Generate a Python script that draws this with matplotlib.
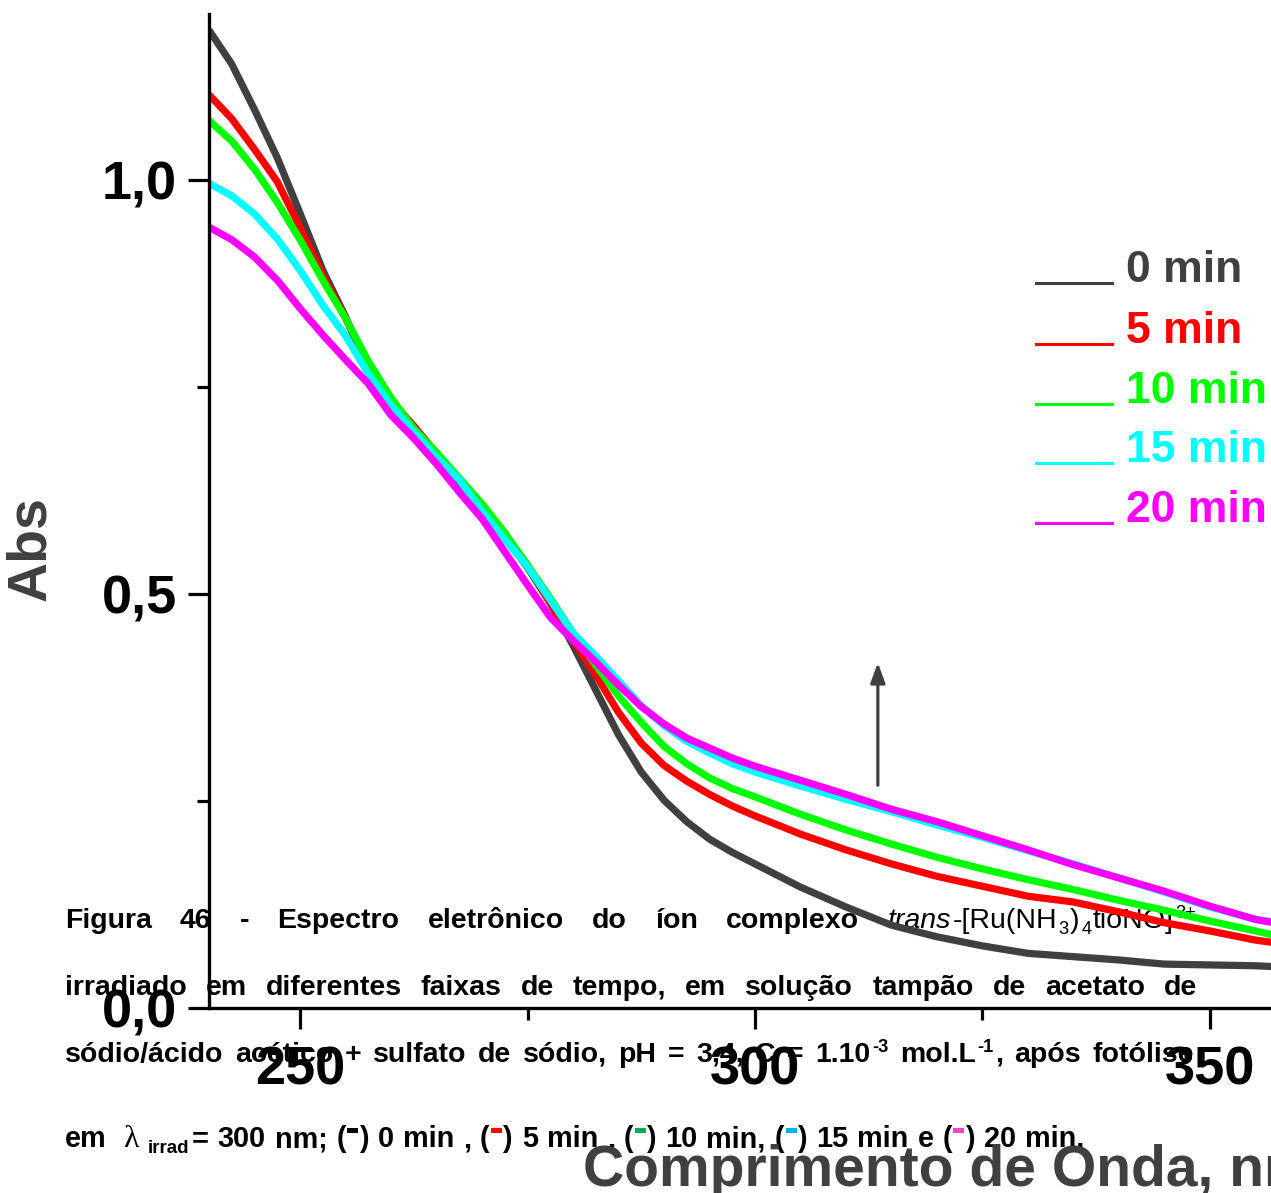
import matplotlib
matplotlib.use("Agg")
import matplotlib.pyplot as plt
from matplotlib.transforms import IdentityTransform
from matplotlib.lines import Line2D
from matplotlib.patches import Rectangle
from matplotlib.ticker import FixedLocator

plt.rcParams['font.family'] = ['Liberation Sans', 'DejaVu Sans']

# ---- data -------------------------------------------------------------
wavelength = [240, 242.5, 245, 247.5, 250, 252.5, 255, 257.5, 260, 262.5,
              265, 267.5, 270, 272.5, 275, 277.5, 280, 282.5, 285, 287.5,
              290, 292.5, 295, 297.5, 300, 305, 310, 315, 320, 325, 330,
              335, 340, 345, 350, 355, 357]

abs_0min = [1.181, 1.140, 1.085, 1.027, 0.960, 0.891, 0.835, 0.769, 0.725,
            0.696, 0.665, 0.634, 0.601, 0.569, 0.532, 0.489, 0.438, 0.384,
            0.330, 0.285, 0.251, 0.225, 0.204, 0.188, 0.174, 0.146, 0.122,
            0.100, 0.086, 0.075, 0.066, 0.062, 0.058, 0.053, 0.052, 0.051,
            0.050]
abs_5min = [1.103, 1.074, 1.037, 0.998, 0.943, 0.885, 0.833, 0.779, 0.734,
            0.703, 0.670, 0.639, 0.607, 0.572, 0.535, 0.489, 0.444, 0.402,
            0.357, 0.320, 0.293, 0.274, 0.258, 0.244, 0.232, 0.210, 0.191,
            0.174, 0.159, 0.147, 0.135, 0.128, 0.116, 0.103, 0.093, 0.082,
            0.079]
abs_10min = [1.072, 1.047, 1.013, 0.973, 0.928, 0.879, 0.833, 0.781, 0.737,
             0.700, 0.671, 0.640, 0.609, 0.574, 0.535, 0.495, 0.453, 0.414,
             0.377, 0.345, 0.316, 0.295, 0.278, 0.265, 0.255, 0.234, 0.215,
             0.198, 0.182, 0.168, 0.155, 0.143, 0.130, 0.118, 0.105, 0.093,
             0.088]
abs_15min = [0.996, 0.981, 0.959, 0.929, 0.891, 0.849, 0.812, 0.766, 0.728,
             0.696, 0.665, 0.638, 0.600, 0.566, 0.533, 0.493, 0.453, 0.425,
             0.395, 0.365, 0.341, 0.322, 0.308, 0.295, 0.285, 0.268, 0.252,
             0.237, 0.221, 0.206, 0.190, 0.174, 0.157, 0.140, 0.122, 0.107,
             0.104]
abs_20min = [0.943, 0.928, 0.907, 0.879, 0.845, 0.813, 0.783, 0.754, 0.716,
             0.688, 0.657, 0.623, 0.591, 0.551, 0.511, 0.472, 0.444, 0.418,
             0.390, 0.364, 0.343, 0.326, 0.314, 0.302, 0.292, 0.275, 0.258,
             0.240, 0.225, 0.208, 0.191, 0.173, 0.157, 0.141, 0.123, 0.107,
             0.103]

series_labels = ['0 min', '5 min', '10 min', '15 min', '20 min']
series_colors = ['#404040', '#ff0000', '#00ff00', '#00ffff', '#ff00ff']
series_values = [abs_0min, abs_5min, abs_10min, abs_15min, abs_20min]

y_major = [0.0, 0.5, 1.0]
y_major_labels = ['0,0', '0,5', '1,0']
y_minor = [0.25, 0.75]
x_major = [250, 300, 350]
x_minor = [275, 325]

caption_marker_colors = ['#000000', '#ff0000', '#00b050', '#00b0f0', '#ff40c8']

# ---- figure -----------------------------------------------------------
W, H = 1271, 1193
fig = plt.figure(figsize=(W / 100, H / 100), dpi=100)
x0_px, y0_px = 209, 1008
px_per_nm, px_per_abs = 9.1, 828
xlim = (240, 360)
ylim = (0, 1.2)
ax = fig.add_axes([x0_px / W, 1 - y0_px / H,
                   (xlim[1] - xlim[0]) * px_per_nm / W,
                   (ylim[1] - ylim[0]) * px_per_abs / H])
ax.set_xlim(*xlim)
ax.set_ylim(*ylim)

for vals, col in zip(series_values, series_colors):
    ax.plot(wavelength, vals, color=col, lw=5.2, solid_joinstyle='round',
            solid_capstyle='butt', zorder=2)

for side in ('top', 'right'):
    ax.spines[side].set_visible(False)
for side in ('left', 'bottom'):
    ax.spines[side].set_linewidth(2.4)

ax.xaxis.set_major_locator(FixedLocator(x_major))
ax.xaxis.set_minor_locator(FixedLocator(x_minor))
ax.yaxis.set_major_locator(FixedLocator(y_major))
ax.yaxis.set_minor_locator(FixedLocator(y_minor))
ax.set_yticklabels(y_major_labels)
ax.set_xticklabels([str(v) for v in x_major])
ax.tick_params(which='major', direction='out', length=15, width=2.3,
               labelsize=39, pad=8)
ax.tick_params(axis='x', which='major', pad=12)
ax.tick_params(which='minor', direction='out', length=8.5, width=2.3)
for lab in ax.get_xticklabels() + ax.get_yticklabels():
    lab.set_fontweight('bold')

# arrow showing the rise of the band with irradiation time
ax.annotate('', xy=(313.5, 0.417), xytext=(313.5, 0.269),
            arrowprops=dict(arrowstyle='-|>,head_length=0.6,head_width=0.22',
                            color='#404040', lw=2.3, mutation_scale=20,
                            shrinkA=0, shrinkB=0))

# axis titles
fig.text(31 / W, 1 - 549 / H, 'Abs', rotation=90, fontsize=40,
         fontweight='bold', color='#404040', ha='center', va='center')
fig.text(583 / W, 1 - 1186 / H, 'Comprimento de Onda, nm', fontsize=41,
         fontweight='bold', color='#404040', ha='left', va='baseline')

# legend
legend_rows = [283, 344, 404, 463, 523]
for lab, col, yy in zip(series_labels, series_colors, legend_rows):
    fig.add_artist(Line2D([1036 / W, 1112 / W], [1 - yy / H, 1 - yy / H],
                          color=col, lw=2.2))
    fig.text(1126 / W, 1 - (yy - 1) / H, lab, fontsize=32, fontweight='bold',
             color=col, ha='left', va='baseline')

# ---- caption (drawn beneath the curves) -------------------------------
ID = IdentityTransform()
renderer = fig.canvas.get_renderer()
CAP = 20.5


def R(s, **kw):
    return (s, kw)


def BAR(color):
    return ('__bar__', {'color': color})


def build_word(runs, cap):
    parts = []
    for s, kw in runs:
        if s == '__bar__':
            parts.append(('bar', kw['color'], 11))
            continue
        size = kw.get('size', cap * 0.64 if ('sub' in kw or 'sup' in kw) else cap)
        t = ax.text(0, 0, s, transform=ID, fontsize=size,
                    fontweight=kw.get('weight', 'bold'),
                    fontstyle=kw.get('style', 'normal'),
                    family=kw.get('family', ['Liberation Sans', 'DejaVu Sans']),
                    color=kw.get('color', 'black'),
                    ha='left', va='baseline', zorder=1, clip_on=False)
        w = t.get_window_extent(renderer).width
        dy = 0
        if kw.get('sub'):
            dy = -6
        if kw.get('sup'):
            dy = 10
        parts.append(('text', t, w, dy))
    total = sum(p[2] + 1.5 for p in parts)
    return parts, total - 1.5


def place_word(parts, x, base):
    for p in parts:
        if p[0] == 'text':
            _, t, w, dy = p
            t.set_position((x, H - base + dy))
            x += w + 1.5
        else:
            _, col, w = p
            ax.add_artist(Rectangle((x, H - base + 14), w, 5, transform=ID,
                                    facecolor=col, edgecolor='none',
                                    zorder=1, clip_on=False))
            x += w + 1.5
    return x


def caption_line(words, base, x_left=65, x_right=None, gaps=None, cap=CAP):
    built = [build_word(w, cap) for w in words]
    widths = [b[1] for b in built]
    if x_right is not None:
        gap = (x_right - x_left - sum(widths)) / (len(words) - 1)
        gaps = [gap] * (len(words) - 1)
    x = x_left
    for i, (parts, w) in enumerate(built):
        place_word(parts, x, base)
        x += w
        if i < len(built) - 1:
            x += gaps[i]


NW = dict(weight='normal')
line1 = [[R('Figura')], [R('46')], [R('-')], [R('Espectro')],
         [R('eletrônico')], [R('do')], [R('íon')], [R('complexo')],
         [R('trans', style='italic', weight='normal'),
          R('-[Ru(NH', **NW), R('3', sub=True, **NW), R(')', **NW),
          R('4', sub=True, **NW), R('tioNO]', **NW), R('3+', sup=True, **NW)]]
line2 = [[R(w)] for w in
         'irradiado em diferentes faixas de tempo, em solução tampão de acetato de'.split()]
line3 = [[R(w)] for w in 'sódio/ácido acético + sulfato de sódio, pH = 3,4, C ='.split()]
line3 += [[R('1.10'), R('-3', sup=True)],
          [R('mol.L'), R('-1', sup=True), R(',')],
          [R('após')], [R('fotólise')]]

caption_line(line1, 928, x_right=1196)
caption_line(line2, 995, x_right=1197)
caption_line(line3, 1062, x_right=1194)

sp = 8.8
line4 = [[R('em')],
         [R('λ', family=['Liberation Serif', 'DejaVu Serif'], weight='normal', size=23)],
         [R('irrad', sub=True, size=13.5)],
         [R('=')], [R('300')], [R('nm;')],
         [R('('), BAR(caption_marker_colors[0]), R(')')], [R('0')], [R('min')], [R(',')],
         [R('('), BAR(caption_marker_colors[1]), R(')')], [R('5')], [R('min')], [R(',')],
         [R('('), BAR(caption_marker_colors[2]), R(')')], [R('10')], [R('min,')],
         [R('('), BAR(caption_marker_colors[3]), R(')')], [R('15')], [R('min')], [R('e')],
         [R('('), BAR(caption_marker_colors[4]), R(')')], [R('20')], [R('min.')]]
gaps4 = [sp * 1.9, sp, 3, sp, sp, sp, sp, sp, sp, sp, sp, sp, sp, sp, sp, sp,
         sp, sp, sp, sp, sp, sp, sp]
caption_line(line4, 1147, gaps=gaps4, cap=20.8)

fig.savefig('out.png', dpi=100, facecolor='white')
